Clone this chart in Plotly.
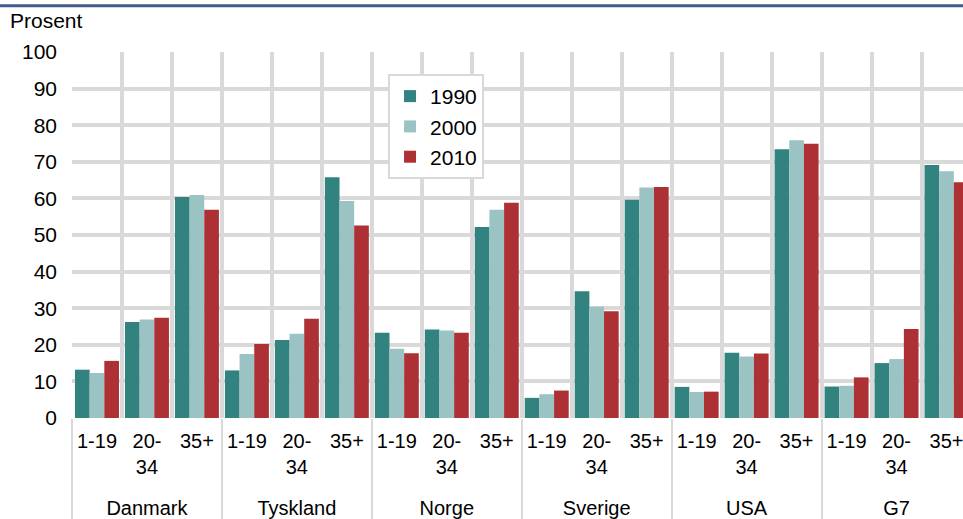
import plotly.graph_objects as go

# Share of population by age group (per cent), three survey years
countries = ["Danmark", "Tyskland", "Norge", "Sverige", "USA", "G7"]
age_groups = ["1-19", "20-<br>34", "35+"]
years = ["1990", "2000", "2010"]

share_1990 = [13.2, 26.2, 60.4, 13.0, 21.3, 65.8, 23.3, 24.2, 52.2,
              5.5, 34.6, 59.6, 8.5, 17.8, 73.4, 8.6, 15.0, 69.1]
share_2000 = [12.3, 26.9, 60.9, 17.5, 23.0, 59.3, 18.9, 23.9, 56.9,
              6.5, 30.4, 63.0, 7.1, 16.8, 75.9, 8.8, 16.1, 67.4]
share_2010 = [15.6, 27.4, 56.9, 20.2, 27.1, 52.6, 17.7, 23.3, 58.8,
              7.5, 29.2, 63.1, 7.2, 17.6, 74.9, 11.1, 24.3, 64.4]

colors = ["#32827f", "#9cc3c3", "#ad3134"]
FONT = "Liberation Sans, Arial, sans-serif"
GRID = "#d9d9d9"

# country row sits one line lower than the age-group labels
outer = ["<br>" + c for c in countries for _ in age_groups]
inner = [a for _ in countries for a in age_groups]

fig = go.Figure()
for name, vals, col in zip(years, [share_1990, share_2000, share_2010], colors):
    fig.add_trace(go.Bar(
        x=[outer, inner], y=vals, name=name,
        marker=dict(color=col, line=dict(width=0)),
    ))

fig.update_layout(
    width=963, height=519,
    margin=dict(l=72, r=0, t=52, b=101, autoexpand=False),
    paper_bgcolor="white", plot_bgcolor="white",
    font=dict(family=FONT, size=21, color="black"),
    barmode="group", bargap=0.12, bargroupgap=0,
    title=dict(text="Prosent", x=10 / 963, xref="container", xanchor="left",
               y=1 - 21 / 519, yref="container", yanchor="middle",
               font=dict(family=FONT, size=21, color="black")),
    legend=dict(x=0.3547, y=0.94, xanchor="left", yanchor="top",
                bgcolor="white", bordercolor=GRID, borderwidth=2,
                font=dict(family=FONT, size=21, color="black"),
                itemclick=False, tracegroupgap=0),
    xaxis=dict(type="multicategory", range=[-0.5, 17.33],
               tickson="boundaries", ticks="", tickangle=0,
               ticklabelstandoff=9,
               showgrid=True, gridcolor=GRID, gridwidth=4,
               showdividers=True, dividercolor=GRID, dividerwidth=2,
               showline=False, automargin=False,
               tickfont=dict(family=FONT, size=20, color="black")),
    yaxis=dict(range=[0, 100], dtick=10, tick0=0,
               showgrid=True, gridcolor=GRID, gridwidth=4,
               zeroline=False, showline=False, ticks="",
               ticklabelstandoff=14, automargin=False,
               tickfont=dict(family=FONT, size=21, color="black")),
    shapes=[dict(type="line", xref="paper", yref="paper",
                 x0=-0.2, x1=1.2, y0=1.1265, y1=1.1265,
                 line=dict(color="#415b8c", width=3))],
)

fig.write_html("out.html")
